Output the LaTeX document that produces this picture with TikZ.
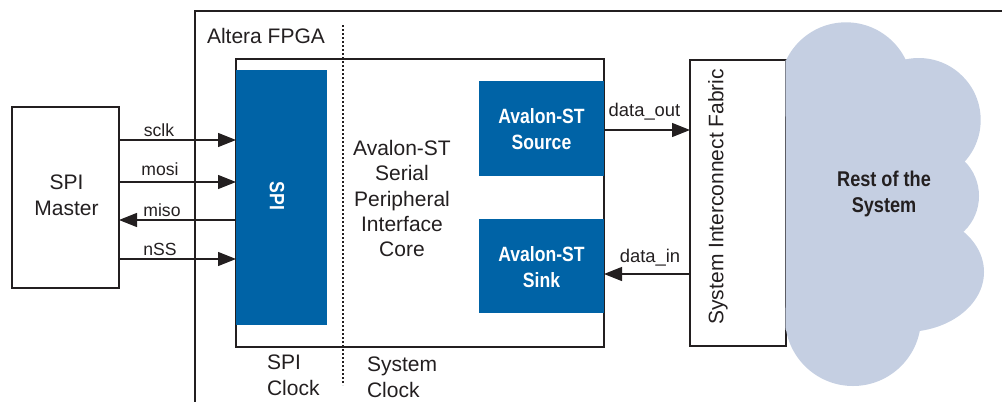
\documentclass[tikz,border=0pt]{standalone}
\usepackage{fontspec}
\setmainfont{Liberation Sans}
\newfontface\condbold{Liberation Sans Bold}[FakeStretch=0.85]
\usetikzlibrary{arrows.meta}
\definecolor{ink}{RGB}{35,31,32}
\definecolor{altblue}{RGB}{0,99,166}
\definecolor{cloudc}{RGB}{197,207,226}
\tikzset{
  every node/.style={inner sep=0pt, outer sep=0pt, text=ink},
  plainbox/.style={draw=ink, line width=0.9pt, fill=white},
  bluebox/.style={fill=altblue, draw=none},
  arr/.style={draw=ink, line width=0.9pt, -{Triangle[length=13.5pt,width=10.5pt]}},
  mainfont/.style={font=\fontsize{15.75}{19.3}\selectfont},
  lblfont/.style={font=\fontsize{13.2}{15}\selectfont},
  datafont/.style={font=\fontsize{13.8}{16}\selectfont},
  condwhite/.style={font=\condbold\fontsize{15.5}{19.5}\selectfont, text=white, align=center},
}
\begin{document}
\begin{tikzpicture}[x=0.75pt,y=-0.75pt]
\useasboundingbox (0,0) rectangle (1002,401);

% FPGA outline (left and top edges only)
\draw[ink, line width=0.9pt] (195,403) -- (195,11) -- (1004,11);
\node[mainfont, anchor=west] (fpga) at (207,36) {Altera FPGA};

% SPI master
\node[plainbox, minimum width=80.25pt, minimum height=135.75pt] (master) at (65.5,197.5) {};
\node[mainfont, align=center] (mastertxt) at (66.5,195.3) {SPI\\Master};

% core box
\node[plainbox, minimum width=276pt, minimum height=216pt] (core) at (420,203) {};
\node[bluebox, minimum width=68.25pt, minimum height=191.25pt] (spi) at (281.5,197.5) {};
\node[condwhite, rotate=-90] (spitxt) at (277,196) {SPI};
\node[bluebox, minimum width=93.75pt, minimum height=71.25pt] (source) at (541.5,128.5) {};
\node[condwhite] (sourcetxt) at (541.5,128.7) {Avalon-ST\\Source};
\node[bluebox, minimum width=93.75pt, minimum height=70.5pt] (sink) at (541.5,266) {};
\node[condwhite] (sinktxt) at (541.5,267) {Avalon-ST\\Sink};
\node[font=\fontsize{15.75}{19.1}\selectfont, align=center] (coretxt) at (402,198.5)
  {Avalon-ST\\Serial\\Peripheral\\Interface\\Core};

% clock domain divider
\draw[ink, line width=0.8pt, dash pattern=on 1.2pt off 1.8pt] (343,25) -- (343,385);
\node[font=\fontsize{15.75}{19.5}\selectfont, align=left, anchor=west] (spiclk) at (267,375) {SPI\\Clock};
\node[font=\fontsize{15.75}{19.5}\selectfont, align=left, anchor=west] (sysclk) at (367,377) {System\\Clock};

% system interconnect fabric
\node[plainbox, minimum width=72pt, minimum height=214.5pt] (fabric) at (738,203) {};
\node[mainfont, rotate=90, anchor=base] (fabrictxt) at (723.3,196.7) {System Interconnect Fabric};

% cloud
\begin{scope}
  \clip (785.7,0) rectangle (1002,401);
  \fill[cloudc] (785,60) rectangle (925,330);
  \fill[cloudc] (846,88.6) circle[radius=66.3];
  \fill[cloudc] (918.7,120) circle[radius=62];
  \fill[cloudc] (930,196) circle[radius=49];
  \fill[cloudc] (905,272) ellipse[x radius=79, y radius=60];
  \fill[cloudc] (853,318) circle[radius=68];
\end{scope}
\node[font=\condbold\fontsize{16}{19.5}\selectfont, align=center] (rest) at (884,193.5) {Rest of the\\System};

% signal rows
\coordinate (ysclk) at (0,140);
\coordinate (ymosi) at (0,182);
\coordinate (ymiso) at (0,220);
\coordinate (ynss) at (0,259);
\coordinate (ydout) at (0,130);
\coordinate (ydin) at (0,274);

\draw[arr] (master.east |- ysclk) -- (core.west |- ysclk);
\draw[arr] (master.east |- ymosi) -- (core.west |- ymosi);
\draw[arr] (core.west |- ymiso) -- (master.east |- ymiso);
\draw[arr] (master.east |- ynss) -- (core.west |- ynss);
\draw[arr] (source.east |- ydout) -- (fabric.west |- ydout);
\draw[arr] (fabric.west |- ydin) -- (sink.east |- ydin);

\node[lblfont, anchor=base] (lsclk) at (159,136) {sclk};
\node[lblfont, anchor=base] (lmosi) at (160,175) {mosi};
\node[lblfont, anchor=base] (lmiso) at (162,216) {miso};
\node[lblfont, anchor=base] (lnss) at (160,255.7) {nSS};
\node[datafont, anchor=base] (ldout) at (644.5,116.7) {data\_out};
\node[datafont, anchor=base] (ldin) at (650,262.7) {data\_in};
\end{tikzpicture}
\end{document}
